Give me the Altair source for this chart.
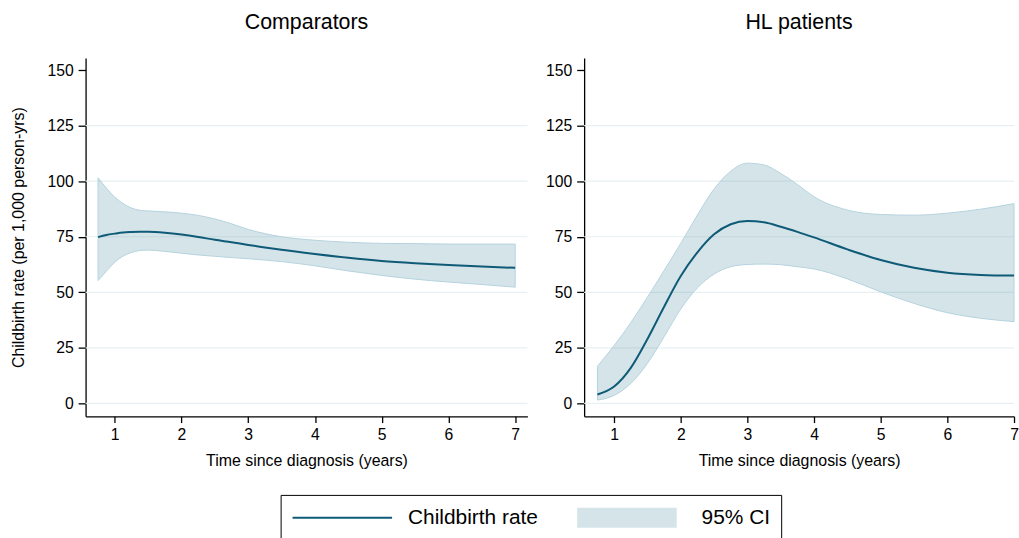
import altair as alt
import pandas as pd

# ---------------- data ----------------
panel_titles = ["Comparators", "HL patients"]
y_axis_title = "Childbirth rate (per 1,000 person-yrs)"
x_axis_title = "Time since diagnosis (years)"
series_labels = ["Childbirth rate", "95% CI"]

comp_time = [0.75, 0.875, 1.0, 1.125, 1.25, 1.375, 1.5, 1.75, 2.0, 2.25, 2.5, 2.75, 3.0, 3.25, 3.5, 4.0, 4.5, 5.0, 5.5, 6.0, 6.5, 7.0]
comp_rate = [74.8, 75.8, 76.4, 76.9, 77.1, 77.2, 77.2, 76.8, 76.0, 74.9, 73.6, 72.5, 71.3, 70.2, 69.1, 67.2, 65.5, 64.1, 63.1, 62.3, 61.6, 61.0]
comp_hi = [101.5, 96.9, 92.8, 89.9, 87.9, 86.9, 86.6, 86.2, 85.6, 84.6, 83.0, 80.8, 78.3, 76.4, 75.0, 73.4, 72.5, 72.0, 71.9, 71.7, 71.7, 71.7]
comp_lo = [55.3, 59.5, 63.5, 66.3, 67.9, 68.8, 69.0, 68.4, 67.6, 66.8, 66.2, 65.6, 65.1, 64.5, 63.8, 61.9, 59.6, 57.6, 55.9, 54.6, 53.5, 52.3]

hl_time = [0.75, 1.0, 1.25, 1.5, 1.75, 2.0, 2.25, 2.5, 2.75, 3.0, 3.25, 3.5, 3.75, 4.0, 4.5, 5.0, 5.5, 6.0, 6.5, 7.0]
hl_rate = [4.0, 7.6, 16.0, 29.0, 43.5, 57.3, 68.0, 76.1, 80.6, 82.1, 81.5, 79.5, 77.2, 74.7, 69.3, 64.5, 61.0, 58.8, 57.8, 57.5]
hl_hi = [16.7, 26.0, 36.3, 47.8, 59.8, 72.0, 84.8, 96.5, 104.5, 108.1, 107.3, 103.5, 98.5, 93.0, 87.0, 85.0, 84.7, 85.6, 87.4, 89.9]
hl_lo = [1.5, 3.6, 9.0, 18.0, 30.0, 42.5, 52.0, 58.2, 61.5, 62.5, 62.7, 62.4, 61.5, 60.5, 56.0, 50.2, 45.0, 40.8, 38.3, 36.8]

y_ticks = [0, 25, 50, 75, 100, 125, 150]
x_ticks = [1, 2, 3, 4, 5, 6, 7]
grid_values = [0, 25, 50, 75, 100, 125]

# ---------------- styling ----------------
FONT = "Arial, Liberation Sans, sans-serif"
LINE_COLOR = "#0f5b77"
CI_FILL = "#4f8fa5"
CI_EDGE = "#b4d3de"
CI_LEGEND = "#d4e4e9"
GRID_COLOR = "#e7f0f2"
Y_DOMAIN = [-5.8, 155.4]


def panel(title, t, rate, lo, hi, x_domain, width, show_ytitle):
    df = pd.DataFrame({"t": t, "rate": rate, "lo": lo, "hi": hi,
                       "series": series_labels[0]})
    grid_df = pd.DataFrame({"g": grid_values})

    x_axis = alt.Axis(values=x_ticks, title=x_axis_title, grid=False,
                      tickSize=6.3, labelPadding=5, titlePadding=10,
                      labelFlush=False)
    y_kwargs = dict(values=y_ticks, grid=False, tickSize=7.5, labelPadding=5,
                    titlePadding=20.5, labelFlush=False)
    if show_ytitle:
        y_axis = alt.Axis(title=y_axis_title, **y_kwargs)
    else:
        y_axis = alt.Axis(title="", **y_kwargs)

    x_scale = alt.Scale(domain=x_domain, nice=False, zero=False)
    y_scale = alt.Scale(domain=Y_DOMAIN, nice=False, zero=False)

    grid = alt.Chart(grid_df).mark_rule(color=GRID_COLOR, strokeWidth=1.2).encode(
        y=alt.Y("g:Q", scale=y_scale, axis=y_axis)
    )
    band = alt.Chart(df).mark_area(
        fill=CI_FILL, fillOpacity=0.24, stroke=CI_EDGE, strokeWidth=1,
        interpolate="monotone"
    ).encode(
        x=alt.X("t:Q", scale=x_scale, axis=x_axis),
        y=alt.Y("lo:Q", scale=y_scale, axis=y_axis),
        y2="hi:Q",
    )
    line = alt.Chart(df).mark_line(interpolate="monotone").encode(
        x=alt.X("t:Q", scale=x_scale, axis=x_axis),
        y=alt.Y("rate:Q", scale=y_scale, axis=y_axis),
        stroke=alt.Stroke("series:N",
                          scale=alt.Scale(domain=series_labels,
                                          range=[LINE_COLOR, CI_LEGEND]),
                          legend=alt.Legend(title=None)),
        strokeWidth=alt.StrokeWidth("series:N",
                                    scale=alt.Scale(domain=series_labels,
                                                    range=[2, 20]),
                                    legend=alt.Legend(title=None)),
    )
    return alt.layer(grid, band, line).properties(
        width=width, height=360,
        title=alt.TitleParams(title, fontSize=21.5, fontWeight="normal",
                              font=FONT, color="black", anchor="middle",
                              offset=25)
    )


left = panel(panel_titles[0], comp_time, comp_rate, comp_lo, comp_hi,
             [0.563, 7.183], 444, True)
right = panel(panel_titles[1], hl_time, hl_rate, hl_lo, hl_hi,
              [0.55, 7.0], 432, False)

chart = alt.hconcat(left, right, spacing=17).properties(
    padding={"left": 10, "top": 10, "right": 0, "bottom": 0}
).configure_view(strokeWidth=0).configure_axis(
    domainColor="black", domainWidth=1.3, tickColor="black", tickWidth=1.3,
    labelFont=FONT, titleFont=FONT, labelFontSize=15.8, titleFontSize=16,
    labelColor="black", titleColor="black", titleFontWeight="normal",
    labelOverlap=False
).configure_legend(
    orient="none", legendX=196, legendY=439, direction="horizontal",
    symbolType="stroke", symbolSize=10000, clipHeight=24,
    labelFont=FONT, labelFontSize=21, labelColor="black", labelOffset=15,
    columnPadding=29, padding=11, strokeColor="black"
)

chart.save("out.html", embed_options={"renderer": "svg", "actions": False})
